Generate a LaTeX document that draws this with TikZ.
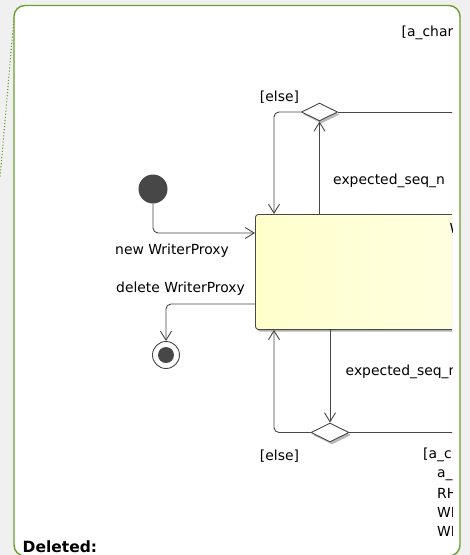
\documentclass[tikz,border=0pt]{standalone}
\usepackage{fontspec}
\setmainfont{DejaVu Sans}
\usetikzlibrary{shapes.geometric,arrows.meta}
\definecolor{umlGreen}{HTML}{6C9E32}
\definecolor{umlLine}{HTML}{474747}
\definecolor{umlBack}{HTML}{F0F0F0}
\definecolor{stYellow}{HTML}{FFFFCC}
\definecolor{stLight}{HTML}{FFFFE6}

\begin{document}
\begin{tikzpicture}[x=1pt,y=-1pt, >={Straight Barb[length=9pt,width=11pt]}]
    \tikzstyle{flow}=[draw=umlLine, line width=0.9pt, rounded corners=5pt]
    \tikzstyle{choice}=[diamond, draw=umlLine, fill=white, line width=0.9pt, inner sep=0pt,
      minimum width=36pt, minimum height=18pt]
    \tikzstyle{guard}=[inner sep=0pt, font=\fontsize{13.9}{16}\selectfont]
    \tikzstyle{statebox}=[draw=umlLine, line width=0.9pt, rounded corners=3pt, anchor=north west,
      minimum width=260pt, minimum height=115pt, left color=stYellow, right color=stLight]

    % background and package frame
    \useasboundingbox (0,0) rectangle (470,555);
    \fill[umlBack] (0,0) rectangle (470,555);
    \draw[umlGreen, line width=1.4pt, fill=white, rounded corners=11pt] (14,5.5) rectangle (460,556);
    \draw[umlGreen, line width=1.1pt, dotted] (14,18) -- (0,178);

    \begin{scope}
    \clip (14,5) rectangle (452,556);

    \node[circle, fill=umlLine, minimum size=29pt, inner sep=0pt] (init) at (153,189) {};
    \node[circle, draw=umlLine, line width=0.9pt, minimum size=27pt, inner sep=0pt] (final) at (166,355) {};
    \fill[umlLine] (final) circle[radius=8];

    \fill[gray!60, rounded corners=3pt] (257,217) rectangle (520,331.5);
    \node[statebox] (proxy) at (255,214) {};
    \node[guard, anchor=north west] (pname) at (449.5,223) {W};

    \node[choice, draw=none, fill=gray!55] at (321.5,114.5) {};
    \node[choice] (dtop) at (319.5,112) {};
    \node[choice, draw=none, fill=gray!55, minimum width=38pt, minimum height=19pt] at (332,435) {};
    \node[choice, minimum width=38pt, minimum height=19pt] (dbot) at (330,432.5) {};

    \draw[flow,->] (init) |- (proxy.west |- 0,233);
    \draw[flow,->] (proxy.west |- 0,304) -| (final);
    \draw[flow,->] (proxy.north -| 319.5,0) -- (dtop);
    \draw[flow,->] (dtop) -| (proxy.north -| 274,0);
    \draw[flow] (dtop) -- (480,112);
    \draw[flow,->] (proxy.south -| 330,0) -- (dbot);
    \draw[flow,->] (dbot) -| (proxy.south -| 274,0);
    \draw[flow] (dbot) -- (480,432.5);

    % guards and triggers
    \node[guard, anchor=west] (gchar) at (401.5,33) {[a\_char};
    \node[guard] (elsetop) at (279.5,97) {[else]};
    \node[guard, anchor=west] (seqtop) at (333,180.5) {expected\_seq\_n};
    \node[guard, anchor=west] (newwp) at (115,250.5) {new WriterProxy};
    \node[guard, anchor=west] (delwp) at (116,289) {delete WriterProxy};
    \node[guard, anchor=west] (seqbot) at (345.5,372) {expected\_seq\_n};
    \node[guard] (elsebot) at (279.5,456) {[else]};
    \node[guard, anchor=west] (gc1) at (423,455) {[a\_c};
    \node[guard, anchor=west] (gc2) at (437,475) {a\_};
    \node[guard, anchor=west] (gc3) at (437,493.5) {RH};
    \node[guard, anchor=west] (gc4) at (437,512) {WR};
    \node[guard, anchor=west] (gc5) at (437,531) {WR};
    \end{scope}

    \node[anchor=west, inner sep=0pt, font=\fontsize{15.5}{18}\selectfont\bfseries] (deleted) at (22.5,546.5) {Deleted:};
\end{tikzpicture}
\end{document}
